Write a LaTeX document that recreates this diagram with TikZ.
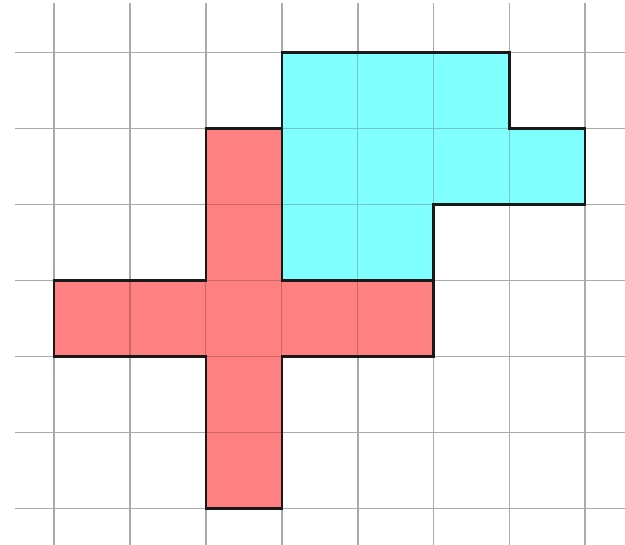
\documentclass[tikz,border=0pt]{standalone}
\definecolor{cyanfill}{RGB}{128,255,255}
\definecolor{redfill}{RGB}{255,128,128}
\definecolor{gridgray}{RGB}{170,170,170}
\begin{document}
\begin{tikzpicture}[x=1pt,y=-1pt,
  gridline/.style={draw=gridgray,line width=1.8pt},
  shapeout/.style={draw=black!90,line width=2.2pt,line join=miter},
  innerline/.style={line width=1.2pt}]
\useasboundingbox (0,0) rectangle (625,545);
\def\ux{75.9}\def\uy{76}
\def\ox{54}\def\oy{52.5}
% grid
\foreach \i in {0,...,7}{\draw[gridline] (\ox+\i*\ux,3) -- (\ox+\i*\ux,545);}
\foreach \j in {0,...,6}{\draw[gridline] (15,\oy+\j*\uy) -- (625,\oy+\j*\uy);}
\begin{scope}[shift={(\ox,\oy)},x=75.9pt,y=-76pt]
% cyan shape
\fill[cyanfill] (3,0) -- (6,0) -- (6,1) -- (7,1) -- (7,2) -- (5,2) -- (5,3) -- (3,3) -- cycle;
% red shape
\fill[redfill] (2,1) -- (3,1) -- (3,3) -- (5,3) -- (5,4) -- (3,4) -- (3,6) -- (2,6) -- (2,4) -- (0,4) -- (0,3) -- (2,3) -- cycle;
% inner grid lines
\draw[innerline,draw=cyanfill!75!black!90] (4,0) -- (4,3) (5,0) -- (5,2) (6,1) -- (6,2) (3,1) -- (7,1) (3,2) -- (5,2);
\draw[innerline,draw=redfill!80!black] (2,2) -- (3,2) (2,3) -- (3,3) (2,4) -- (3,4) (2,5) -- (3,5) (1,3) -- (1,4) (2,3) -- (2,4) (3,3) -- (3,4) (4,3) -- (4,4);
\draw[shapeout] (3,0) -- (6,0) -- (6,1) -- (7,1) -- (7,2) -- (5,2) -- (5,3) -- (3,3) -- cycle;
\draw[shapeout] (2,1) -- (3,1) -- (3,3) -- (5,3) -- (5,4) -- (3,4) -- (3,6) -- (2,6) -- (2,4) -- (0,4) -- (0,3) -- (2,3) -- cycle;
\end{scope}
\end{tikzpicture}
\end{document}
